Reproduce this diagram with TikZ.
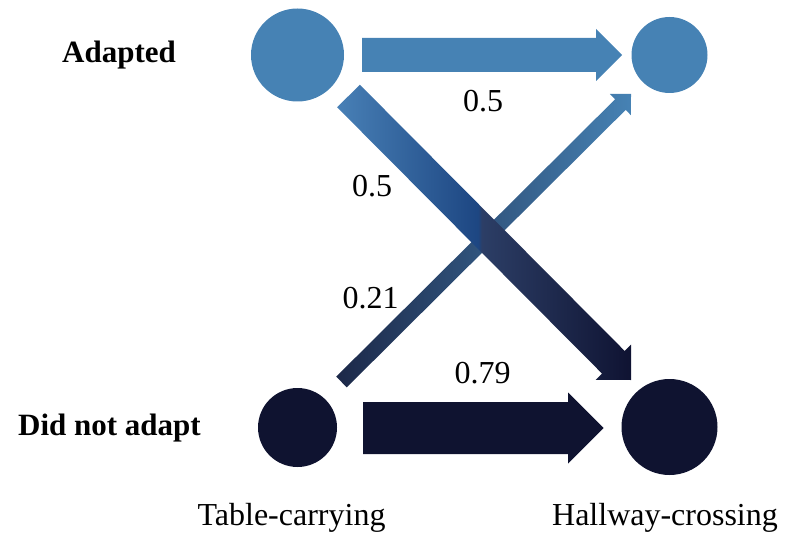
\documentclass[tikz,border=0pt]{standalone}
\usepackage{fontspec}
\setmainfont{Liberation Serif}
\usetikzlibrary{calc}
\definecolor{steel}{RGB}{70,130,180}
\definecolor{navy}{RGB}{15,19,48}
\definecolor{cA}{RGB}{72,128,182}
\definecolor{cB}{RGB}{29,70,130}
\definecolor{cC}{RGB}{44,62,102}
\definecolor{cD}{RGB}{15,19,50}
\definecolor{tA}{RGB}{28,40,72}
\definecolor{tB}{RGB}{33,69,122}
\pgfdeclarehorizontalshading{thickshade}{100bp}{color(0bp)=(cA); color(25bp)=(cA); color(49bp)=(cB); color(49.6bp)=(cC); color(75bp)=(cD); color(100bp)=(cD)}
% #1 options, #2 tail, #3 tip, #4 shaft half-width, #5 head half-width
\newcommand{\blockarrow}[5]{%
  \coordinate (#3h) at ($(#3)!#5!(#2)$);
  \path[#1] ($(#2)!#4!90:(#3)$) -- ($(#3h)!#4!-90:(#2)$) -- ($(#3h)!#5!-90:(#2)$) -- (#3)
    -- ($(#3h)!#5!90:(#2)$) -- ($(#3h)!#4!90:(#2)$) -- ($(#2)!#4!-90:(#3)$) -- cycle;}
\begin{document}
\begin{tikzpicture}[x=1pt,y=-1pt,
  dot/.style={circle,inner sep=0pt,draw=none},
  lbl/.style={anchor=base,font=\fontsize{32}{36}\selectfont},
  side/.style={anchor=base,font=\fontsize{31}{36}\selectfont\bfseries}]
\useasboundingbox (0,0) rectangle (787,540);
% states
\node[dot,fill=steel,minimum size=93pt] (A1) at (297.5,55) {};
\node[dot,fill=steel,minimum size=76pt] (A2) at (669.5,55) {};
\node[dot,fill=navy,minimum size=79pt] (D1) at (297.5,427.5) {};
\node[dot,fill=navy,minimum size=96pt] (D2) at (669.5,427) {};
% connector ends
\coordinate (tTop) at (362,55);   \coordinate (hTop) at (622,55);
\coordinate (tBot) at (363,428);  \coordinate (hBot) at (603.5,428);
\coordinate (tUp) at (341.5,382); \coordinate (hUp) at (631,94);
\coordinate (tDn) at (348.5,96);  \coordinate (hDn) at (631,380);
% arrows
\blockarrow{fill=steel}{tTop}{hTop}{17pt}{26pt}
\blockarrow{fill=navy}{tBot}{hBot}{26pt}{35.5pt}
\blockarrow{left color=tA,middle color=tB,right color=steel}{tUp}{hUp}{7.5pt}{15pt}
\blockarrow{shade,shading=thickshade}{tDn}{hDn}{16pt}{25pt}
% labels
\node[side] (la) at (119,63) {Adapted};
\node[side] (ld) at (109.5,435) {Did not adapt};
\node[lbl] (p1) at (483,112) {0.5};
\node[lbl] (p2) at (372,197) {0.5};
\node[lbl] (p3) at (370.5,308) {0.21};
\node[lbl] (p4) at (482.5,383) {0.79};
\node[lbl] (x1) at (291.5,525) {Table-carrying};
\node[lbl] (x2) at (665,525) {Hallway-crossing};
\end{tikzpicture}
\end{document}
